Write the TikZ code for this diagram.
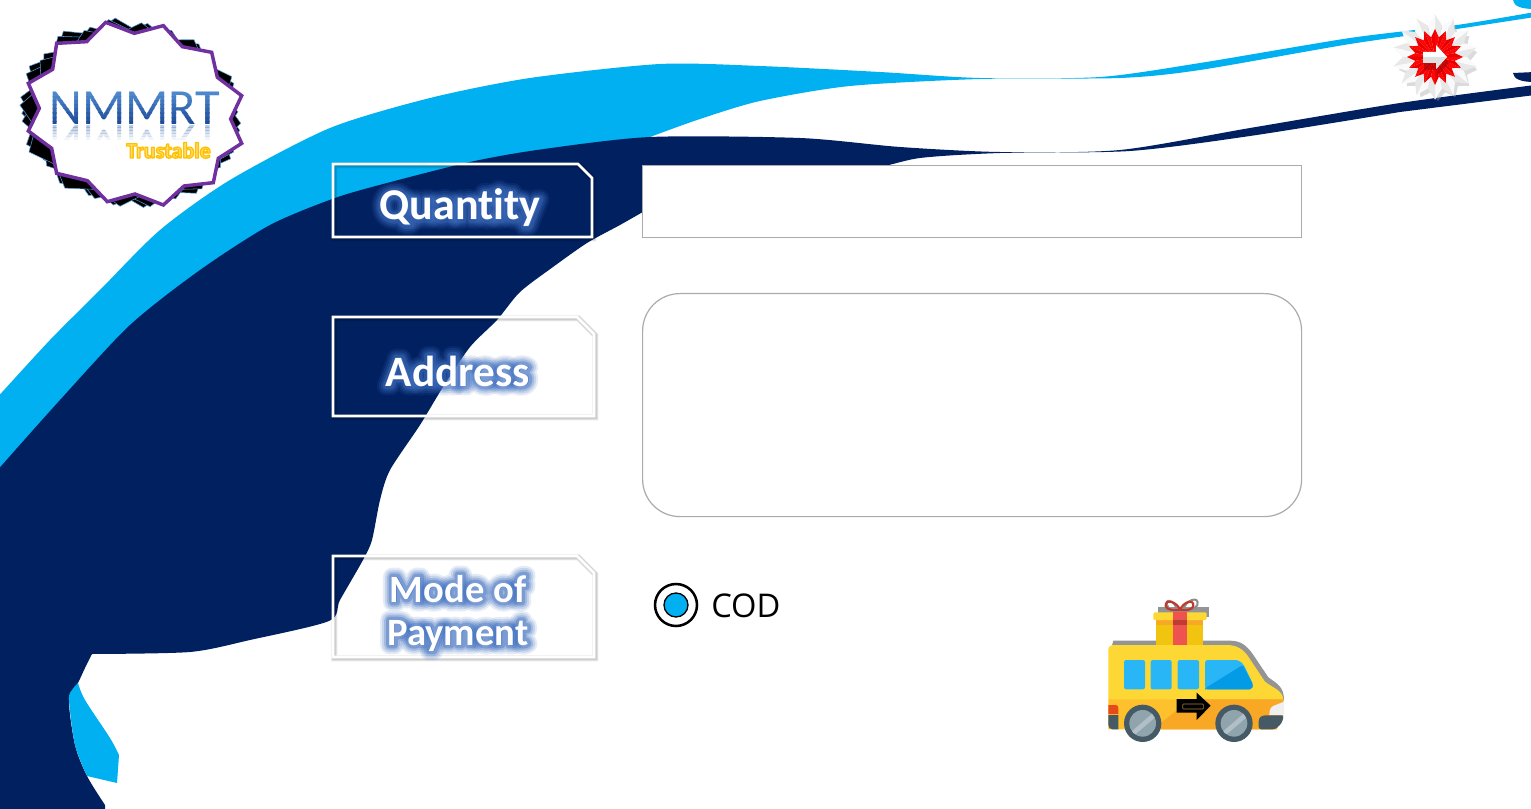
\documentclass[tikz,border=0pt]{standalone}
\usepackage{fontspec}
\setmainfont{Carlito}[Ligatures=NoCommon]
\newfontfamily\codfont{Open Sans}
\definecolor{navyb}{HTML}{002060}
\definecolor{skyb}{HTML}{00B0F0}
\definecolor{glowb}{HTML}{3F6FC0}
\definecolor{boxgrey}{HTML}{ABABAB}
\definecolor{vany}{HTML}{FDD835}
\definecolor{vano}{HTML}{FEC02C}
\definecolor{vand}{HTML}{F9A825}
\definecolor{vanw}{HTML}{29B6F6}
\definecolor{vanf}{HTML}{039BE5}
\definecolor{vans}{HTML}{455A64}
\definecolor{vanm}{HTML}{90A4AE}
\definecolor{vantail}{HTML}{E64A19}
\definecolor{vanarrowin}{HTML}{AA7832}
\definecolor{giftbox}{HTML}{F1C40F}
\definecolor{giftred}{HTML}{EF5350}
\definecolor{giftdark}{HTML}{BE3C32}
\definecolor{bowred}{HTML}{C0392B}
\definecolor{logopurple}{HTML}{7030A0}
\definecolor{logoedge}{HTML}{5B9BD5}
\definecolor{topc}{HTML}{4E88CC}
\definecolor{botc}{HTML}{1E4C9A}
\definecolor{reflc}{HTML}{2E64AF}
\definecolor{trustout}{HTML}{FFC000}
\definecolor{trustin}{HTML}{FFE078}
\tikzset{
  labelbox/.style={draw=white,line width=2.1pt,line join=miter},
  fieldbox/.style={draw=boxgrey,fill=white,line width=.9pt},
  labeltext/.style={font=\fontsize{#1}{#1}\selectfont\bfseries,inner sep=0pt,anchor=base},
  windowpane/.style={fill=vanw,rounded corners=1.6pt},
}
% text painted and outlined: #1 = RGB of the outline, #2 = its width, #3 = text
\newcommand{\strokedtext}[3]{\special{pdf:code q 1 j 2 Tr #1 RG #2 w}#3\special{pdf:code Q}}
\newcommand{\glowtext}[5]{%
  \foreach \w/\o in {14/.13,11/.18,8/.26,5/.4}{
    \node[labeltext=#3,text=glowb,opacity=\o] at (#1,#2) {\strokedtext{0.247 0.435 0.753}{\w}{#4}};
  }
  \node[labeltext=#3,text=white] (#5) at (#1,#2) {#4};
}
\newcommand{\softshadow}[1]{%
  \draw[black,opacity=.08,line width=4.6pt,line join=miter,shift={(1.2,1.2)}] #1;
  \draw[black,opacity=.12,line width=3.2pt,line join=miter,shift={(1.2,1.2)}] #1;
}
\newcommand{\logopoly}{(317,67)--(403,100)--(490,77)--(547,140)--(635,157)--(652,232)--(725,287)--(692,357)--(725,430)--(655,475)--(640,548)--(552,558)--(490,615)--(405,582)--(322,605)--(262,542)--(170,520)--(155,445)--(85,393)--(118,325)--(85,250)--(158,208)--(170,130)--(260,125)--cycle}
\begin{document}
\begin{tikzpicture}[x=.75pt,y=-.75pt]
\useasboundingbox (0,0) rectangle (1531,809);
\clip (0,0) rectangle (1531,809);
\fill[white] (0,0) rectangle (1531,809);
% sky-blue sweep
\fill[skyb] plot[smooth,tension=.45] coordinates {(-5,400)(50,340)(100,290)(160,230)(230,180)(330,128)(430,98)(530,78)(660,64)(760,66)(880,72)(980,78)(1100,77)(1200,63)(1350,38)(1457,25)(1535,12)}
  -- (1535,17) -- plot[smooth,tension=.45] coordinates {(1457,29)(1350,44)(1200,70)(1120,78)(980,79)(850,86)(760,101)(700,119)(650,137)}
  -- (320,300) -- (-5,480) -- cycle;
\fill[skyb] (1513,0) .. controls (1514,6) and (1520,9) .. (1535,9) -- (1535,0) -- cycle;
% navy sweep
\fill[navyb] plot[smooth,tension=.45] coordinates {(-5,473)(60,400)(130,325)(200,270)(270,225)(335,198)(387,183)(470,162)(537,150)(650,137)(800,138)(900,147)(1000,152)(1120,150)(1250,128)(1400,103)(1535,85)}
  -- (1535,95) -- plot[smooth,tension=.45] coordinates {(1400,112)(1250,136)(1130,151)(1000,153)(920,158)(860,170)(730,172)(660,203)(620,225)(587,243)(553,267)(520,292)(497,320)(470,347)(443,387)(420,425)(390,470)(380,500)(372,540)(363,560)(340,600)(329,621)(250,640)(190,652)(92,654)}
  -- plot[smooth,tension=.5] coordinates {(92,654)(85,668)(78,683)(69,700)(75,745)(87,776)(105,805)}
  -- (105,812) -- (-5,812) -- cycle;
\fill[navyb] (1513,73) .. controls (1514,79) and (1520,82) .. (1535,82) -- (1535,72) -- cycle;
\fill[skyb] plot[smooth,tension=.5] coordinates {(78,683)(72,690)(69,700)(75,745)(87,776)} -- (117,783) -- plot[smooth,tension=.5] coordinates {(119,755)(110,738)(85,700)(78,683)} -- cycle;
% logo
\begin{scope}[x=.25pt,y=-.25pt]
  \foreach \ang in {-9,-5,7,11}{
    \begin{scope}[rotate around={\ang:(405,336)},shift={(-15,0)}]
      \filldraw[fill=black,draw=logoedge,line width=.4pt] \logopoly;
    \end{scope}
  }
  \fill[white] \logopoly;
  \draw[draw=logopurple,line width=2.6pt,line join=miter] \logopoly;
\end{scope}
\foreach \i in {0,...,7}{
  \pgfmathsetmacro{\yt}{92+\i*4.2}
  \pgfmathsetmacro{\yb}{\yt+4.4}
  \pgfmathsetmacro{\mixv}{\i*100/7}
  \begin{scope}
    \clip (30,\yt) rectangle (240,\yb);
    \node[font=\fontsize{38}{38}\selectfont,inner sep=0pt,anchor=base,text=botc!\mixv!topc] (nm\i) at (135,125) {NMMRT};
  \end{scope}
}
\foreach \i in {0,...,4}{
  \pgfmathsetmacro{\yt}{125+\i*2.8}
  \pgfmathsetmacro{\yb}{\yt+2.9}
  \pgfmathsetmacro{\ov}{.34*(1-\i/5)}
  \begin{scope}
    \clip (30,\yt) rectangle (240,\yb);
    \node[font=\fontsize{38}{38}\selectfont,inner sep=0pt,anchor=north,text=reflc,opacity=\ov] (nr\i) at (135,125) {\scalebox{1}[-1]{NMMRT}};
  \end{scope}
}
\node[font=\fontsize{16.5}{16.5}\selectfont\bfseries,inner sep=0pt,anchor=base,text=trustin] (trust) at (168.5,158) {\strokedtext{1 0.753 0}{1}{Trustable}};
% top-right badge
\begin{scope}[shift={(1435,57)}]
  \foreach \k in {0,...,13}{
    \pgfmathsetmacro{\aa}{\k*360/14-90}
    \pgfmathsetmacro{\ab}{\aa+360/28}
    \pgfmathsetmacro{\ac}{\aa+360/14}
    \fill[black!35,opacity=.4,shift={(3,4)}] (0,0) -- (\aa:30pt) -- (\ab:24pt) -- (\ac:30pt) -- cycle;
  }
  \foreach \k in {0,...,13}{
    \pgfmathsetmacro{\aa}{\k*360/14-90}
    \pgfmathsetmacro{\ab}{\aa+360/28}
    \pgfmathsetmacro{\ac}{\aa+360/14}
    \fill[black!2] (0,0) -- (\aa:32pt) -- (\ab:24pt) -- cycle;
    \fill[black!9] (0,0) -- (\ab:24pt) -- (\ac:32pt) -- cycle;
  }
  \foreach \k in {0,...,15}{
    \pgfmathsetmacro{\aa}{\k*360/16-90}
    \pgfmathsetmacro{\ab}{\aa+360/32}
    \pgfmathsetmacro{\ac}{\aa+360/16}
    \fill[red!92!black] (0,0) -- (\aa:21pt) -- (\ab:15pt) -- cycle;
    \fill[red!98!white] (0,0) -- (\ab:15pt) -- (\ac:21pt) -- cycle;
  }
  \fill[black!45!red,opacity=.45] (-11,-3) -- (2,-3) -- (2,-9) -- (14,6) -- (2,19) -- (2,13) -- (-11,13) -- cycle;
  \fill[white] (-12,-5) -- (1,-5) -- (1,-12) -- (12,0) -- (1,12) -- (1,6) -- (-12,6) -- cycle;
  \fill[black!12] (-12,6) -- (1,6) -- (1,12) -- (12,0) -- (1,0) -- (-12,0) -- cycle;
\end{scope}
% fields
\node[fieldbox,rectangle,minimum width=659*.75pt,minimum height=72*.75pt,inner sep=0pt,anchor=north west] (qtyfield) at (642,165) {};
\node[fieldbox,rectangle,rounded corners=28pt,minimum width=659*.75pt,minimum height=223*.75pt,inner sep=0pt,anchor=north west] (addrfield) at (642,293) {};
% label frames
\softshadow{(333,164) -- (578,164) -- (592,178) -- (592,237) -- (333,237) -- cycle}
\draw[labelbox] (333,164) -- (578,164) -- (592,178) -- (592,237) -- (333,237) -- cycle;
\softshadow{(333,317) -- (577,317) -- (594,334) -- (594,416) -- (333,416) -- cycle}
\draw[labelbox] (333,317) -- (577,317) -- (594,334) -- (594,416) -- (333,416) -- cycle;
\softshadow{(333,556) -- (577,556) -- (594,573) -- (594,657) -- (333,657) -- cycle}
\draw[labelbox] (333,556) -- (577,556) -- (594,573) -- (594,657) -- (333,657) -- cycle;
\glowtext{460}{220}{33}{Quantity}{qtylabel}
\glowtext{458}{386}{32.5}{Address}{addrlabel}
\glowtext{458}{602}{29}{Mode of}{modelabel}
\glowtext{458}{645}{29}{Payment}{paylabel}
% radio
\node[circle,draw=black,line width=1.9pt,minimum size=42*.75pt,inner sep=0pt] (radio) at (676,605) {};
\node[circle,draw=black,fill=skyb,line width=1pt,minimum size=24*.75pt,inner sep=0pt] (radiodot) at (676,605) {};
\node[font=\codfont\fontsize{24.5}{24.5}\selectfont,inner sep=0pt,anchor=base west,text=black] (cod) at (711,617) {COD};
% van
\begin{scope}[shift={(1090,590)},x=.25pt,y=-.25pt]
  % grey shadow
  \fill[black!42] (205,52) -- (358,52) -- (358,82) -- (205,82) -- cycle;
  \fill[black!42] (65,170) -- (70,152) -- (420,152) .. controls (450,152) and (470,165) .. (490,195) -- (535,262) .. controls (560,280) and (582,290) .. (582,330) -- (560,340) -- cycle;
  % body
  \fill[vany] (55,180) .. controls (55,170) and (62,165) .. (72,165) -- (410,165) .. controls (440,165) and (460,178) .. (475,200) -- (525,275) .. controls (550,295) and (578,300) .. (580,330) -- (55,330) -- cycle;
  \fill[vano] (55,328) -- (580,328) -- (580,375) -- (560,418) -- (55,418) -- cycle;
  \fill[vand] (190,418) -- (300,328) -- (580,328) -- (580,375) -- (560,418) -- cycle;
  % windows
  \fill[windowpane] (102,210) rectangle (165,298);
  \fill[windowpane] (182,210) rectangle (245,298);
  \fill[windowpane] (263,210) rectangle (327,298);
  \fill[vanw,rounded corners=2pt] (345,210) -- (435,210) .. controls (450,212) and (458,220) .. (465,232) -- (490,285) -- (485,298) -- (345,298) -- cycle;
  \fill[vanf,rounded corners=1.5pt] (345,295) -- (458,225) -- (490,285) -- (485,298) -- (345,298) -- cycle;
  % tail and front
  \fill[vantail] (55,345) -- (78,345) .. controls (83,345) and (85,350) .. (85,355) -- (85,372) -- (55,372) -- cycle;
  \fill[vans] (55,375) -- (85,375) -- (85,418) -- (68,418) .. controls (60,418) and (55,412) .. (55,405) -- cycle;
  \fill[black!6] (552,347) -- (582,335) -- (582,375) -- (538,375) .. controls (538,360) and (542,350) .. (552,347) -- cycle;
  \fill[vans,rounded corners=2pt] (506,418) -- (506,385) -- (518,376) -- (582,376) -- (575,400) -- (555,418) -- cycle;
  % wheels
  \foreach \cx in {158,432}{
    \fill[vans] (\cx,400) circle[radius=14pt];
    \fill[vanm] (\cx,400) circle[radius=10pt];
    \begin{scope}
      \clip (\cx,400) circle[radius=10pt];
      \fill[vanm!70!white] (\cx-40,430) -- (\cx+30,370) -- (\cx+40,380) -- (\cx-30,440) -- cycle;
    \end{scope}
  }
  % arrow
  \fill[black] (260,327) -- (320,327) -- (320,308) -- (362,347) -- (320,390) -- (320,368) -- (260,368) -- cycle;
  \draw[draw=vanarrowin,line width=.5pt,rounded corners=.6pt] (278,342) rectangle (340,357);
  % gift bow
  \draw[black!45,line width=1.5pt] (280,60) .. controls (285,30) and (330,15) .. (322,45) .. controls (318,58) and (295,60) .. (280,60);
  \draw[black!45,line width=1.5pt] (260,60) .. controls (255,25) and (215,25) .. (235,52);
  \draw[bowred,line width=1.6pt] (270,60) .. controls (262,35) and (225,25) .. (227,48) .. controls (228,60) and (255,62) .. (270,60);
  \draw[bowred,line width=1.6pt] (270,60) .. controls (280,35) and (312,25) .. (310,48) .. controls (308,60) and (285,62) .. (270,60);
  % gift box
  \fill[giftbox] (197,90) rectangle (340,165);
  \fill[vand] (197,90) rectangle (340,105);
  \fill[vany,rounded corners=1pt] (190,67) rectangle (350,90);
  \fill[giftred] (250,65) rectangle (290,165);
  \fill[giftdark] (250,90) rectangle (290,105);
\end{scope}
\end{tikzpicture}
\end{document}
